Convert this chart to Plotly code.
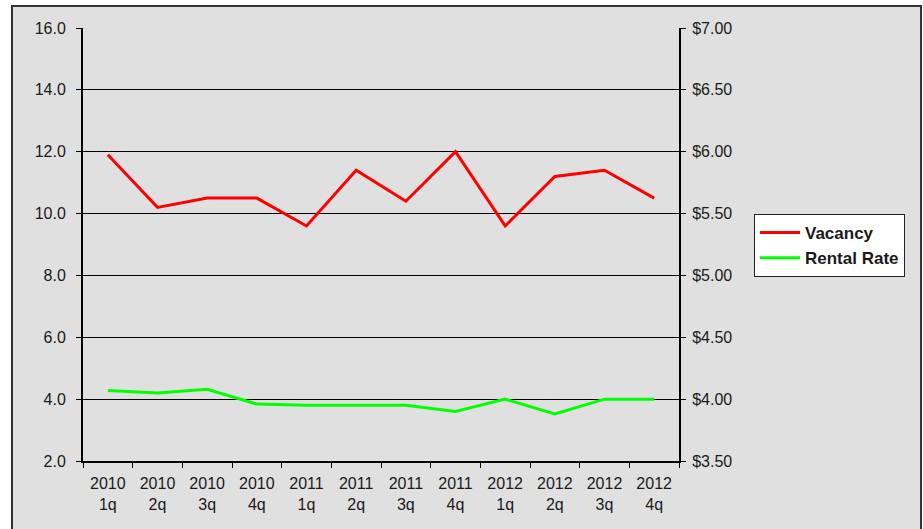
import plotly.graph_objects as go

quarters = ["2010<br>1q", "2010<br>2q", "2010<br>3q", "2010<br>4q",
            "2011<br>1q", "2011<br>2q", "2011<br>3q", "2011<br>4q",
            "2012<br>1q", "2012<br>2q", "2012<br>3q", "2012<br>4q"]
vacancy = [11.9, 10.2, 10.5, 10.5, 9.6, 11.4, 10.4, 12.0, 9.6, 11.2, 11.4, 10.5]
rental_rate = [4.07, 4.05, 4.08, 3.96, 3.95, 3.95, 3.95, 3.90, 4.00, 3.88, 4.00, 4.00]

font_family = "Liberation Sans, Arial, sans-serif"
text_color = "#1a1a1a"

fig = go.Figure()
fig.add_trace(go.Scatter(x=quarters, y=vacancy, name="Vacancy", mode="lines",
                         line=dict(color="#ff0000", width=3), yaxis="y"))
fig.add_trace(go.Scatter(x=quarters, y=rental_rate, name="Rental Rate", mode="lines",
                         line=dict(color="#00ff00", width=3), yaxis="y2"))

W, H = 923, 529
L, R, T, B = 83, 679, 28, 461
pw, ph = R - L, B - T

def px_x(x):
    return (x - L) / pw

def px_y(y):
    return (B - y) / ph

fig.add_shape(type="rect", xref="paper", yref="paper",
              x0=px_x(12), x1=px_x(921), y0=px_y(545), y1=px_y(6),
              fillcolor="#e0e0e0", line=dict(color="#333333", width=2), layer="below")

fig.update_layout(
    width=W, height=H,
    margin=dict(l=L, r=W - R, t=T, b=H - B, pad=0),
    paper_bgcolor="white",
    plot_bgcolor="rgba(0,0,0,0)",
    font=dict(family=font_family, size=16, color=text_color),
    showlegend=True,
    legend=dict(x=px_x(754), y=px_y(214), xanchor="left", yanchor="top",
                bgcolor="white", bordercolor="#222222", borderwidth=1,
                itemwidth=40,
                font=dict(family=font_family, size=17, color=text_color, weight="bold")),
    xaxis=dict(type="category", tickson="boundaries", ticks="outside", ticklen=5,
               tickcolor="black", showline=True, linecolor="black", linewidth=2,
               showgrid=False, range=[-0.5, 11.5], tickfont=dict(size=16),
               ticklabelstandoff=7, automargin=False),
    yaxis=dict(range=[2, 16], dtick=2, tickformat=".1f", showgrid=True,
               gridcolor="black", gridwidth=1, ticks="outside", ticklen=5,
               tickcolor="black", showline=True, linecolor="black", linewidth=2,
               zeroline=False, tickfont=dict(size=16), ticklabelstandoff=7,
               automargin=False),
    yaxis2=dict(range=[3.5, 7.0], dtick=0.5, tickformat="$.2f", overlaying="y",
                side="right", showgrid=False, ticks="outside", ticklen=5,
                tickcolor="black", showline=True, linecolor="black", linewidth=2,
                zeroline=False, tickfont=dict(size=16), ticklabelstandoff=3,
                automargin=False),
)

fig.write_html("out.html", config={"displayModeBar": False},
               post_script="document.body.style.margin='0';document.body.style.overflow='hidden';")
